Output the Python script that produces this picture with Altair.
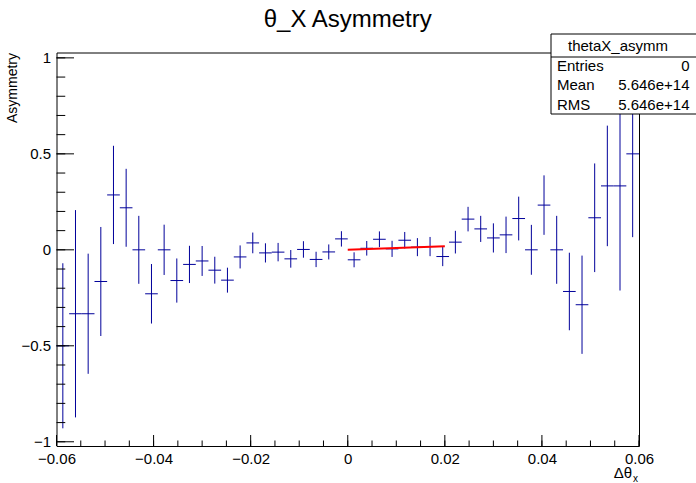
import altair as alt
import pandas as pd

# ---------------- texts ----------------
TITLE = ["θ_X Asymmetry"]
Y_TITLE = ["Asymmetry"]
X_TITLE = ["Δθ"]
X_TITLE_SUB = ["x"]
STAT_NAME = ["thetaX_asymm"]
STAT_KEYS = ["Entries", "Mean", "RMS"]
STAT_VALS = ["0", "5.646e+14", "5.646e+14"]

# ---------------- histogram ----------------
X_MIN, X_MAX, N_BINS = -0.06, 0.06, 46
asym = [-0.500, -0.333, -0.333, -0.165, 0.286, 0.219, 0.000, -0.229, 0.000, -0.160,
        -0.076, -0.058, -0.106, -0.158, -0.037, 0.036, -0.016, -0.012, -0.047, 0.002,
        -0.050, -0.011, 0.057, -0.052, 0.008, 0.055, 0.005, 0.050, 0.014, 0.017,
        -0.035, 0.040, 0.160, 0.109, 0.062, 0.078, 0.163, 0.000, 0.233, 0.000,
        -0.217, -0.286, 0.167, 0.333, 0.333, 0.500]
asym_err = [0.430, 0.540, 0.313, 0.284, 0.256, 0.203, 0.177, 0.155, 0.131, 0.115,
            0.097, 0.078, 0.070, 0.065, 0.060, 0.054, 0.050, 0.048, 0.046, 0.043,
            0.040, 0.039, 0.040, 0.039, 0.038, 0.041, 0.042, 0.043, 0.047, 0.050,
            0.050, 0.059, 0.064, 0.068, 0.076, 0.095, 0.114, 0.130, 0.155, 0.177,
            0.202, 0.256, 0.283, 0.314, 0.545, 0.434]

# linear fit drawn over [0, 0.02]
fit_x = [0.0, 0.02]
fit_y = [0.0, 0.019]

# axes
Y_DOMAIN = [-1.022, 1.028]
x_major = [-0.06, -0.04, -0.02, 0.0, 0.02, 0.04, 0.06]
x_minor = [round(-0.06 + 0.005 * i, 3) for i in range(25)]
y_major = [-1.0, -0.5, 0.0, 0.5, 1.0]
y_minor = [round(-1.0 + 0.1 * i, 1) for i in range(21)]

# ---------------- layout / style ----------------
W, H = 582.5, 393.5
L, T = 56.5, 52.5
FONT = "Liberation Sans"
BLUE = "#00009a"

bw = (X_MAX - X_MIN) / N_BINS
hist = pd.DataFrame({
    "lo": [X_MIN + i * bw for i in range(N_BINS)],
    "hi": [X_MIN + (i + 1) * bw for i in range(N_BINS)],
    "c": [X_MIN + (i + 0.5) * bw for i in range(N_BINS)],
    "v": asym,
    "e": asym_err,
})
hist["ylo"] = hist["v"] - hist["e"]
hist["yhi"] = hist["v"] + hist["e"]

xs = alt.Scale(domain=[X_MIN, X_MAX], nice=False, zero=False)
ys = alt.Scale(domain=Y_DOMAIN, nice=False, zero=False)
x_axis = alt.Axis(values=x_major, format="~g", title=None, ticks=False, domain=False, grid=False,
                  labelFont=FONT, labelFontSize=15, labelColor="black", labelPadding=5,
                  labelFlush=False, labelOverlap=False, labelBound=False)
y_axis = alt.Axis(values=y_major, format="~g", title=None, ticks=False, domain=False, grid=False,
                  labelFont=FONT, labelFontSize=15, labelColor="black", labelPadding=6,
                  labelFlush=False, labelOverlap=False, labelBound=False)


def X(f):
    return alt.X(f, type="quantitative", scale=xs, axis=x_axis)


def Y(f):
    return alt.Y(f, type="quantitative", scale=ys, axis=y_axis)


vbars = alt.Chart(hist).mark_rule(color=BLUE, strokeWidth=1).encode(
    x=X("c"), y=Y("ylo"), y2="yhi")
hbars = alt.Chart(hist).mark_rule(color=BLUE, strokeWidth=1).encode(
    x=X("lo"), x2="hi", y=Y("v"))

fit_df = pd.DataFrame({"x": fit_x, "y": fit_y})
fit = alt.Chart(fit_df).mark_line(color="#ff0000", strokeWidth=2).encode(x=X("x"), y=Y("y"))

# inward ticks
xmaj_df = pd.DataFrame({"t": x_major})
xmin_df = pd.DataFrame({"t": x_minor})
ymaj_df = pd.DataFrame({"t": y_major})
ymin_df = pd.DataFrame({"t": y_minor})
tick_x_major = alt.Chart(xmaj_df).mark_rule(color="black", strokeWidth=1).encode(
    x=X("t"), y=alt.value(H), y2=alt.value(H - 11))
tick_x_minor = alt.Chart(xmin_df).mark_rule(color="black", strokeWidth=1).encode(
    x=X("t"), y=alt.value(H), y2=alt.value(H - 5.5))
tick_y_major = alt.Chart(ymaj_df).mark_rule(color="black", strokeWidth=1).encode(
    y=Y("t"), x=alt.value(0), x2=alt.value(17.5))
tick_y_minor = alt.Chart(ymin_df).mark_rule(color="black", strokeWidth=1).encode(
    y=Y("t"), x=alt.value(0), x2=alt.value(8.75))

# titles
title_df = pd.DataFrame({"t": TITLE})
title = alt.Chart(title_df).mark_text(font=FONT, fontSize=24, align="center", baseline="alphabetic",
                                      color="black").encode(
    x=alt.value(W / 2), y=alt.value(-25.5), text="t:N")
ytitle_df = pd.DataFrame({"t": Y_TITLE})
ytitle = alt.Chart(ytitle_df).mark_text(font=FONT, fontSize=14, align="right", baseline="middle",
                                        angle=270, color="black").encode(
    x=alt.value(-43.5), y=alt.value(0.5), text="t:N")
xtitle_df = pd.DataFrame({"t": X_TITLE})
xtitle = alt.Chart(xtitle_df).mark_text(font=FONT, fontSize=15, align="right", baseline="alphabetic",
                                        color="black").encode(
    x=alt.value(575.5), y=alt.value(425), text="t:N")
xsub_df = pd.DataFrame({"t": X_TITLE_SUB})
xsub = alt.Chart(xsub_df).mark_text(font=FONT, fontSize=10, align="left", baseline="alphabetic",
                                    color="black").encode(
    x=alt.value(576.5), y=alt.value(429), text="t:N")

# stats box
BX0, BX1, BY0, BY1, BDIV = 494.5, 640, -18.5, 61.5, 4.5
stat_df = pd.DataFrame({"t": STAT_NAME})
box = alt.Chart(stat_df).mark_rect(fill="white", stroke="black", strokeWidth=1).encode(
    x=alt.value(BX0), x2=alt.value(BX1), y=alt.value(BY0), y2=alt.value(BY1))
divider = alt.Chart(stat_df).mark_rule(color="black", strokeWidth=1).encode(
    x=alt.value(BX0), x2=alt.value(BX1), y=alt.value(BDIV), y2=alt.value(BDIV))
box_title = alt.Chart(stat_df).mark_text(font=FONT, fontSize=15, align="center", baseline="middle",
                                         color="black").encode(
    x=alt.value(561.5), y=alt.value(-7), text="t:N")

row_y = [13.5, 32.5, 52.0]
stat_layers = []
for k, v, yy in zip(STAT_KEYS, STAT_VALS, row_y):
    d = pd.DataFrame({"k": [k], "v": [v]})
    stat_layers.append(alt.Chart(d).mark_text(font=FONT, fontSize=15, align="left", baseline="middle",
                                              color="black").encode(
        x=alt.value(500.5), y=alt.value(yy), text="k:N"))
    stat_layers.append(alt.Chart(d).mark_text(font=FONT, fontSize=15, align="right", baseline="middle",
                                              color="black").encode(
        x=alt.value(633), y=alt.value(yy), text="v:N"))

chart = alt.layer(
    vbars, hbars, fit,
    tick_x_major, tick_x_minor, tick_y_major, tick_y_minor,
    box, divider, box_title, *stat_layers,
    title, ytitle, xtitle, xsub,
).properties(
    width=W, height=H,
    autosize=alt.AutoSizeParams(type="none"),
    padding={"left": L, "top": T, "right": 696 - L - W, "bottom": 483 - T - H},
    background="white",
).configure_view(stroke="black", strokeWidth=1)

chart.save("out.html", embed_options={"renderer": "svg", "actions": False})
